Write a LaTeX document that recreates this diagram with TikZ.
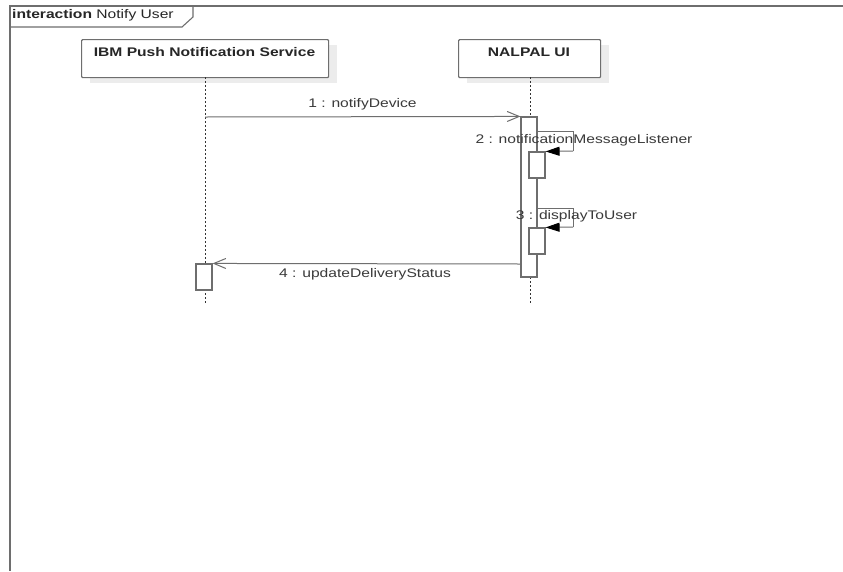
\documentclass[tikz,border=0pt]{standalone}
\usepackage{fontspec}
\setmainfont{Liberation Sans}
\usetikzlibrary{arrows.meta}
\definecolor{ln}{HTML}{6E6E6E}
\definecolor{tx}{HTML}{3A3A3A}
\definecolor{shd}{HTML}{ECECEC}
\newcommand{\wide}[1]{\scalebox{1.25}[1]{#1}}
\begin{document}
\begin{tikzpicture}[x=1pt,y=-1pt,
  framestyle/.style={draw=ln, line width=1.4pt},
  lifebox/.style={draw=ln, line width=1.2pt, fill=white, rounded corners=1pt, inner sep=0pt, anchor=north west},
  shadowbox/.style={fill=shd, draw=none, inner sep=0pt, anchor=north west},
  lifeline/.style={draw=black!80, line width=0.9pt, dash pattern=on 2pt off 2pt},
  actbox/.style={draw=ln, line width=1.1pt, fill=white, inner sep=0pt, minimum width=16pt},
  msg/.style={draw=ln, line width=1pt},
  openarrow/.style={msg, -{Straight Barb[length=12pt,width=10pt,line width=1pt]}},
  fillarrow/.style={msg, -{Triangle[length=14pt,width=9pt,color=black]}},
  lbl/.style={text=tx, font=\fontsize{12.5}{14}\selectfont, inner sep=0pt},
  ttl/.style={text=black!85, font=\fontsize{12.5}{14}\selectfont\bfseries, inner sep=0pt}
]
\useasboundingbox (0,0) rectangle (843,571);
\fill[white] (0,0) rectangle (843,571);

% frame
\draw[framestyle] (843,6) -- (10,6) -- (10,571);
\draw[framestyle, line width=1.1pt] (10,27) -- (182,27) -- (193,17) -- (193,6);
\node[anchor=west, inner sep=0pt, text=black!85, font=\fontsize{12.5}{14}\selectfont] (flabel) at (12,15)
  {\wide{\textbf{interaction} Notify User}};

% lifeline heads
\node[shadowbox, minimum width=247pt, minimum height=38pt] (ibmsh) at (90,45) {};
\node[lifebox, minimum width=247pt, minimum height=38pt] (ibm) at (81,39) {};
\node[ttl] (ibmt) at (204.5,52) {\wide{IBM Push Notification Service}};
\node[shadowbox, minimum width=142pt, minimum height=38pt] (nalsh) at (467,45) {};
\node[lifebox, minimum width=142pt, minimum height=38pt] (nal) at (458,39) {};
\node[ttl] (nalt) at (529,52) {\wide{NALPAL UI}};

% lifelines
\coordinate (ibmtop) at (205,77);
\coordinate (ibmbot) at (205,304);
\coordinate (naltop) at (530,77);
\coordinate (nalbot) at (530,304);
\draw[lifeline] (ibmtop) -- (ibmbot);
\draw[lifeline] (naltop) -- (nalbot);

% activations
\node[actbox, minimum height=160pt] (act) at (529,197) {};
\node[actbox, minimum height=26pt] (act2) at (537,165) {};
\node[actbox, minimum height=26pt] (act3) at (537,241) {};
\node[actbox, minimum height=26pt] (actL) at (204,277) {};

% message 1
\coordinate (m1s) at (205,117);
\draw[openarrow] (m1s) -- (act.north west);
\node[lbl] (l1) at (362.5,104) {\wide{1 : notifyDevice}};

% message 2 (self)
\coordinate (m2s) at (537,131);
\coordinate (m2c) at (573,151);
\draw[msg] (m2s) -| (m2c);
\draw[fillarrow] (m2c) -- (act2.north east);
\node[lbl] (l2) at (584,140) {\wide{2 : notificationMessageListener}};

% message 3 (self)
\coordinate (m3s) at (537,208);
\coordinate (m3c) at (573,227);
\draw[msg] (m3s) -| (m3c);
\draw[fillarrow] (m3c) -- (act3.north east);
\node[lbl] (l3) at (576.5,216) {\wide{3 : displayToUser}};

% message 4
\coordinate (m4s) at (521,264);
\draw[openarrow] (m4s) -- (actL.north east);
\node[lbl] (l4) at (365,274) {\wide{4 : updateDeliveryStatus}};
\end{tikzpicture}
\end{document}
